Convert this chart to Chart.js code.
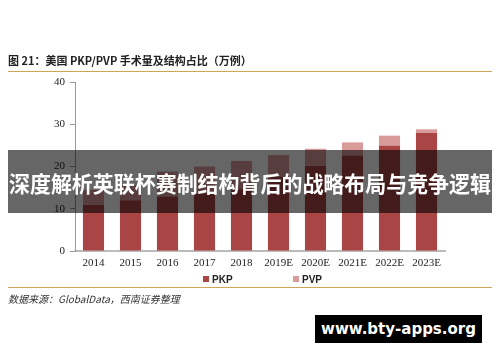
<!DOCTYPE html>
<html>
<head>
<meta charset="utf-8">
<script src="https://cdn.jsdelivr.net/npm/chart.js@4"></script>
<style>
html,body{margin:0;padding:0;background:#fff;width:500px;height:362px;overflow:hidden;}
#wrap{position:absolute;left:0;top:0;width:500px;height:362px;}
.title{position:absolute;left:8px;top:52px;font:bold 11px "Noto Sans CJK SC","Liberation Sans",sans-serif;color:#222;letter-spacing:0px;white-space:nowrap;}
.rule{position:absolute;left:8px;width:484px;height:1px;background:#d2a45a;}
.src{position:absolute;left:8px;top:291px;font:italic 10px "Noto Sans CJK SC","Liberation Sans",sans-serif;color:#333;white-space:nowrap;}
.legend{position:absolute;top:274px;font:bold 10px "Liberation Sans",Arial,sans-serif;color:#222;white-space:nowrap;}
.legend i{display:inline-block;width:6px;height:6px;margin-right:3px;vertical-align:1px;}
.band{position:absolute;left:8px;top:150px;width:484px;height:63px;background:rgba(0,0,0,0.6);overflow:hidden;}
.band span{position:absolute;left:50%;top:50%;color:#fff;font:bold 22px "Noto Sans CJK SC",sans-serif;white-space:nowrap;transform-origin:center center;}
.wm{position:absolute;left:315px;top:315px;width:167px;height:28px;background:#000;color:#fff;font:bold 15px "DejaVu Sans","Noto Sans",sans-serif;line-height:28px;text-align:center;white-space:nowrap;}
</style>
</head>
<body>
<div id="wrap"><canvas id="c" width="500" height="362"></canvas></div>
<div class="title">图 21：美国 PKP/PVP 手术量及结构占比（万例）</div>
<div class="rule" style="top:71px"></div>
<div class="legend" style="left:203px"><i style="background:#a94544"></i>PKP</div>
<div class="legend" style="left:293px"><i style="background:#d99a9a"></i>PVP</div>
<div class="rule" style="top:287px"></div>
<div class="src">数据来源：GlobalData，西南证券整理</div>
<div class="band"><span id="bt">深度解析英联杯赛制结构背后的战略布局与竞争逻辑</span></div>
<div class="wm">www.bty-apps.org</div>
<script>
(function(){
  const el = document.getElementById('bt');
  const w = el.getBoundingClientRect().width;
  const k = Math.min(1, 482 / w);
  el.style.transform = 'translate(-50%,-50%) scaleX(' + k + ')';
})();

const categories = ['2014','2015','2016','2017','2018','2019E','2020E','2021E','2022E','2023E'];
const pkp = [10.9, 12.0, 12.9, 13.6, 14.6, 17.5, 20.2, 22.6, 25.0, 27.9];
const pvp = [3.6, 3.6, 5.9, 6.4, 6.7, 5.2, 4.0, 3.1, 2.3, 0.9];
const yTicks = [0, 10, 20, 30, 40];

new Chart(document.getElementById('c'), {
  type: 'bar',
  data: {
    labels: categories,
    datasets: [
      {label: 'PKP', data: pkp, backgroundColor: '#a94544', stack: 's'},
      {label: 'PVP', data: pvp, backgroundColor: '#d99a9a', stack: 's'}
    ]
  },
  options: {
    responsive: false,
    animation: false,
    devicePixelRatio: 1,
    layout: {padding: {left: 0, top: 82, right: 55, bottom: 0}},
    plugins: {legend: {display: false}, tooltip: {enabled: false}},
    datasets: {bar: {categoryPercentage: 1, barPercentage: 0.57}},
    scales: {
      x: {
        stacked: true,
        grid: {display: false, drawTicks: false, tickLength: 0},
        border: {color: '#bbb', width: 2},
        ticks: {color: '#222', padding: 6, font: {family: '"Liberation Serif","Times New Roman",serif', size: 11}},
        afterFit: s => { s.height = 111; }
      },
      y: {
        stacked: true,
        min: yTicks[0], max: yTicks[yTicks.length - 1],
        afterBuildTicks: s => { s.ticks = yTicks.map(v => ({value: v})); },
        grid: {drawOnChartArea: false, drawTicks: true, tickLength: 5, color: '#999'},
        border: {color: '#999', width: 1},
        ticks: {color: '#222', padding: 5, font: {family: '"Liberation Serif","Times New Roman",serif', size: 11}},
        afterFit: s => { s.width = 75; }
      }
    }
  }
});
</script>
</body>
</html>
